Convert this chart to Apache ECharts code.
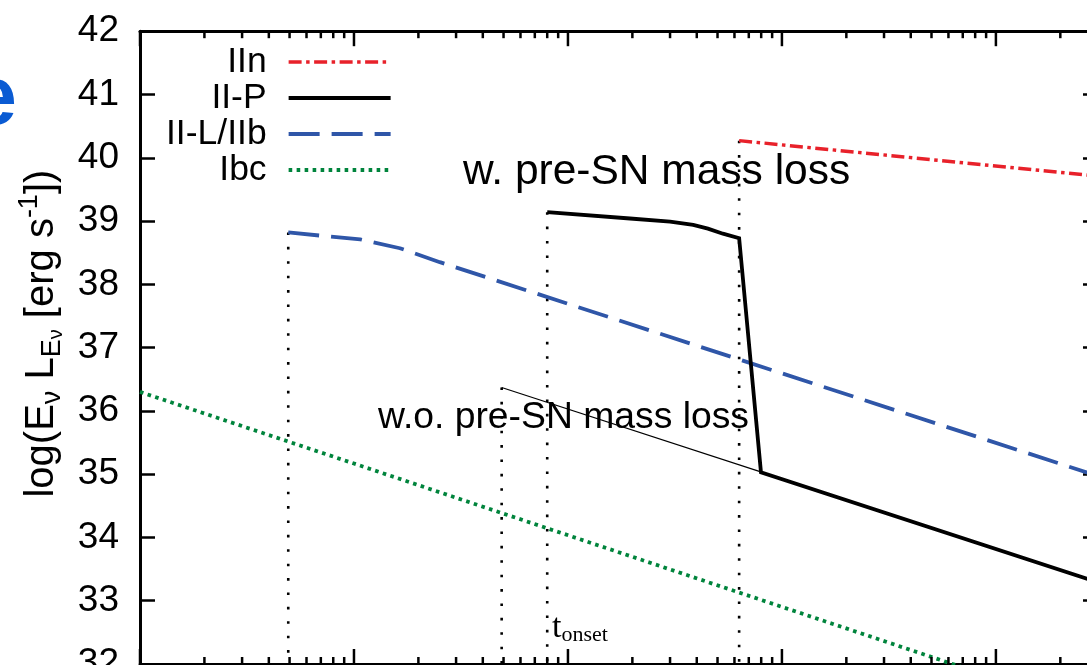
<!DOCTYPE html>
<html><head><meta charset="utf-8">
<script src="https://cdn.jsdelivr.net/npm/echarts@6/dist/echarts.min.js"></script>
<style>html,body{margin:0;padding:0;background:#fff;overflow:hidden}#c{width:1087px;height:665px}</style>
</head><body><div id="c"></div>
<script>
// ---------- data ----------
const legendNames = ['IIn', 'II-P', 'II-L/IIb', 'Ibc'];
const iinX = [631, 30000];
const iinY = [40.27, 39.71];
const iipX = [80, 195, 300, 385, 451, 530, 631, 798, 30000];
const iipY = [39.14, 39.04, 38.99, 38.94, 38.88, 38.80, 38.73, 35.03, 33.29];
const iipNoLossX = [49, 790];
const iipNoLossY = [36.37, 35.04];
const iilX = [4.93, 6.94, 10.7, 16.4, 25.2, 30000];
const iilY = [38.82, 38.77, 38.71, 38.57, 38.35, 34.97];
const ibcX = [1, 30000];
const ibcY = [36.30, 31.23];
const onsetX = [4.93, 49, 80, 631];
const onsetTop = [38.82, 36.37, 39.14, 40.27];
const xDecades = [1, 10, 100, 1000, 10000];
const xMinorMult = [2, 3, 4, 5, 6, 7, 8, 9];
const yTickValues = [32, 33, 34, 35, 36, 37, 38, 39, 40, 41, 42];

// ---------- layout / style ----------
const X_MIN = 1, X_MAX = 30000;
const Y_MIN = yTickValues[0], Y_MAX = yTickValues[yTickValues.length - 1];
const FONT = "'Liberation Sans', Arial, Helvetica, sans-serif";
const SERIF = "'Liberation Serif', 'Times New Roman', serif";
const zip = (xs, ys) => xs.map((x, i) => [x, ys[i]]);

const annotations = [
  {x: 32.3, y: 39.77, text: 'w. pre-SN mass loss', fontSize: 42.5, fontFamily: FONT},
  {x: 12.95, y: 35.89, text: 'w.o. pre-SN mass loss', fontSize: 37.3, fontFamily: FONT},
  {x: 84.2, y: 32.56, text: '{t|t}{o|onset}', fontSize: 34, fontFamily: SERIF,
   rich: {t: {fontSize: 34, fontFamily: SERIF, lineHeight: 36, fill: '#000'},
          o: {fontSize: 22, fontFamily: SERIF, lineHeight: 22, verticalAlign: 'bottom', fill: '#000'}}}
];

const tickData = [];
xDecades.forEach(d => {
  tickData.push([d, Y_MIN, 1]);
  xMinorMult.forEach(m => { if (d * m < X_MAX) tickData.push([d * m, Y_MIN, 0]); });
});

const chart = echarts.init(document.getElementById('c'), null, {renderer: 'canvas'});

const axisLineStyle = {color: '#000', width: 3};
const xAxisBase = {
  type: 'log', logBase: 10, min: X_MIN, max: X_MAX,
  axisLine: {show: true, onZero: false, lineStyle: axisLineStyle},
  axisTick: {show: false}, axisLabel: {show: false},
  splitLine: {show: false}, minorTick: {show: false}, minorSplitLine: {show: false}
};
const yAxisBase = {
  type: 'value', min: Y_MIN, max: Y_MAX, interval: 1,
  axisLine: {show: true, onZero: false, lineStyle: axisLineStyle},
  axisTick: {show: true, inside: true, length: 15, lineStyle: {color: '#000', width: 2.5}},
  splitLine: {show: false}
};

const onsetSeries = onsetX.map((x, i) => ({
  name: 'onset' + i, type: 'line', data: [[x, onsetTop[i]], [x, Y_MIN]],
  symbol: 'none', silent: true, z: 1,
  lineStyle: {color: '#000', width: 2.6, type: [2.6, 11.8], cap: 'butt'}
}));

chart.setOption({
  animation: false,
  backgroundColor: '#fff',
  grid: {left: 140, top: 31.2, right: -11, bottom: 1, containLabel: false, outerBoundsMode: 'none'},
  legend: {
    data: legendNames, orient: 'vertical', align: 'right', left: 166, top: 44,
    padding: 0, itemGap: 0, itemWidth: 102, itemHeight: 14, selectedMode: false,
    itemStyle: {opacity: 0},
    lineStyle: {width: 'inherit'},
    textStyle: {fontSize: 35.5, fontFamily: FONT, color: '#000', lineHeight: 36, padding: [0, 17, 0, 0]}
  },
  graphic: [{
    type: 'text', x: 17, y: 101, silent: true,
    style: {text: 'e', fontSize: 84, fontWeight: 'bold', fontFamily: FONT, fill: '#0a5bd3', align: 'right', verticalAlign: 'middle'}
  }],
  xAxis: [
    Object.assign({position: 'bottom'}, xAxisBase),
    Object.assign({position: 'top'}, xAxisBase)
  ],
  yAxis: [
    Object.assign({
      position: 'left',
      axisLabel: {show: true, fontSize: 37, fontFamily: FONT, color: '#000', margin: 21},
      name: '{n|log(E}{s|ν}{n| L}{s|E}{ss|ν}{n| [erg s}{p|-1}{n|])}',
      nameLocation: 'middle', nameGap: 73.5, nameRotate: 90, nameMoveOverlap: false,
      nameTextStyle: {
        color: '#000', fontFamily: FONT, fontSize: 40, padding: [0, 0, 0, 28],
        rich: {
          n: {fontSize: 40, fontFamily: FONT, lineHeight: 50, color: '#000'},
          s: {fontSize: 27, fontFamily: FONT, lineHeight: 27, verticalAlign: 'bottom', color: '#000'},
          ss: {fontSize: 20, fontFamily: FONT, lineHeight: 14, verticalAlign: 'bottom', color: '#000'},
          p: {fontSize: 27, fontFamily: FONT, lineHeight: 22, verticalAlign: 'top', color: '#000'}
        }
      }
    }, yAxisBase),
    Object.assign({position: 'right', axisLabel: {show: false}}, yAxisBase)
  ],
  series: [
    ...onsetSeries,
    {name: 'Ibc', type: 'line', data: zip(ibcX, ibcY), symbol: 'none', z: 3, color: '#00843c',
     lineStyle: {color: '#00843c', width: 3.8, type: [3.6, 4.4], cap: 'butt'}},
    {name: 'II-L/IIb', type: 'line', data: zip(iilX, iilY), symbol: 'none', z: 3, color: '#2f56a8',
     lineStyle: {color: '#2f56a8', width: 3.8, type: [31, 12], cap: 'butt'}},
    {name: 'II-P w.o. mass loss', type: 'line', data: zip(iipNoLossX, iipNoLossY), symbol: 'none', z: 3,
     lineStyle: {color: '#000', width: 1.1}},
    {name: 'II-P', type: 'line', data: zip(iipX, iipY), symbol: 'none', z: 4, color: '#000',
     lineStyle: {color: '#000', width: 3.8, join: 'miter'}},
    {name: 'IIn', type: 'line', data: zip(iinX, iinY), symbol: 'none', z: 3, color: '#e8212a',
     lineStyle: {color: '#e8212a', width: 3.4, type: [13, 4.5, 3.5, 4.5], cap: 'butt'}},
    {name: 'xticks', type: 'custom', data: tickData, silent: true, z: 5, clip: false,
     encode: {x: 0, y: 1},
     renderItem: (params, api) => {
       const v = api.value(0), major = api.value(2);
       const pb = api.coord([v, Y_MIN]);
       const pt = api.coord([v, Y_MAX]);
       const len = major ? 15 : 7;
       const st = {stroke: '#000', lineWidth: 2.5};
       return {type: 'group', children: [
         {type: 'line', shape: {x1: pb[0], y1: pb[1], x2: pb[0], y2: pb[1] - len}, style: st},
         {type: 'line', shape: {x1: pt[0], y1: pt[1], x2: pt[0], y2: pt[1] + len}, style: st}
       ]};
     }},
    {name: 'annotations', type: 'custom', data: annotations.map(a => [a.x, a.y]), silent: true, z: 6, clip: false,
     encode: {x: 0, y: 1},
     renderItem: (params, api) => {
       const a = annotations[params.dataIndex];
       const p = api.coord([api.value(0), api.value(1)]);
       return {type: 'text', x: p[0], y: p[1], style: {
         text: a.text, fontSize: a.fontSize, fontFamily: a.fontFamily, fill: '#000',
         align: 'left', verticalAlign: 'middle', rich: a.rich
       }};
     }}
  ]
});
</script></body></html>
